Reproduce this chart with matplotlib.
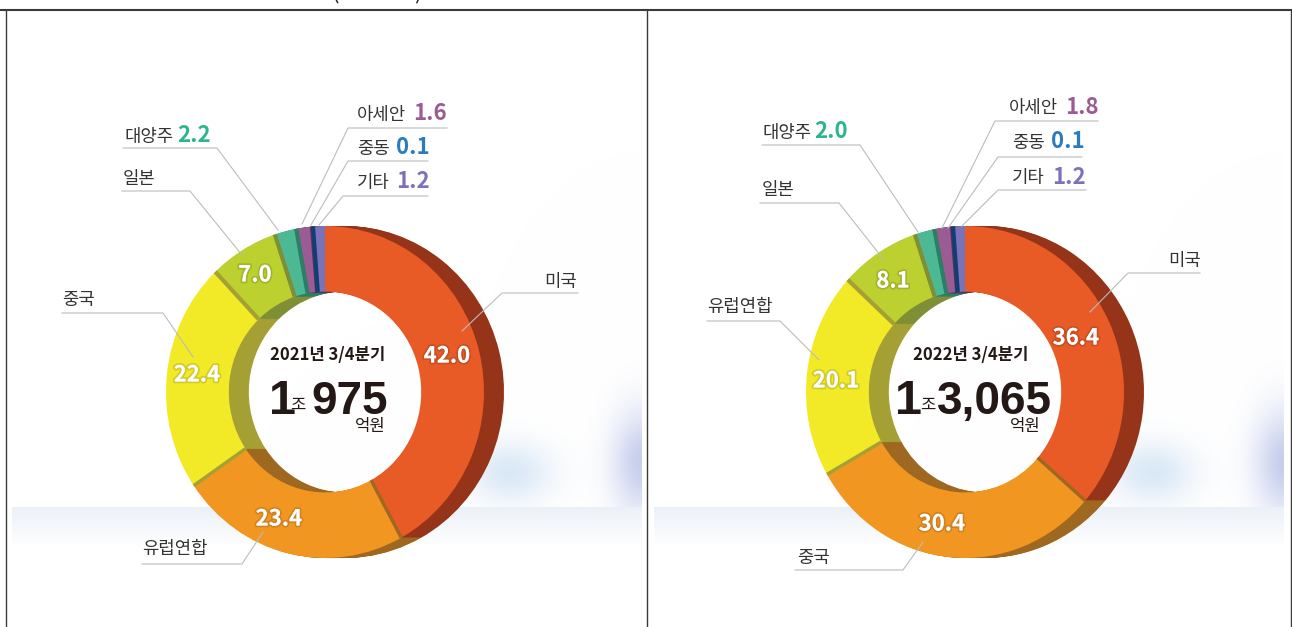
import numpy as np
import matplotlib
matplotlib.use('Agg')
import matplotlib.pyplot as plt
import matplotlib.patheffects as pe

plt.rcParams['font.family'] = ['Noto Sans CJK KR', 'DejaVu Sans']

# data
names_2021 = ['미국', '유럽연합', '중국', '일본', '대양주', '아세안', '중동', '기타']
values_2021 = [42.0, 23.4, 22.4, 7.0, 2.2, 1.6, 0.1, 1.2]
names_2022 = ['미국', '중국', '유럽연합', '일본', '대양주', '아세안', '중동', '기타']
values_2022 = [36.4, 30.4, 20.1, 8.1, 2.0, 1.8, 0.1, 1.2]
periods = ['2021년 3/4분기', '2022년 3/4분기']
totals = ['975', '3,065']

# styles
face_cols = ['#E85A26', '#F29622', '#F2EA27', '#BCD02F', '#4DB894', '#9A5C93', '#1F5FA0', '#7B72BC']
side_cols = ['#96341A', '#9E6820', '#A5A033', '#7E8F36', '#2A7F65', '#5F2F5E', '#123F70', '#4A4490']
value_cols = {'대양주': '#2DB58F', '아세안': '#9A5C93', '중동': '#2A7BBF', '기타': '#7B72BC'}

W, H = 1292, 627
RX, RY = 159, 166
CY = 392
DEPTH = 20

# layout, in pixels of the picture
centers = [325, 965]
white_pos = [
    [(447, 356), (279, 519), (197, 375), (255, 275)],
    [(1076, 338), (942, 524), (836, 381), (893, 281)],
]
# name left x, y, value left x (None when value sits on the ring)
label_pos = [
    [(544, 282, None), (142, 549, None), (62, 300, None), (123, 179, None),
     (124, 137, 177), (357, 115, 413), (357, 149, 396), (357, 183, 396)],
    [(1168, 261, None), (797, 558, None), (707, 307, None), (762, 190, None),
     (763, 133, 814), (1009, 108, 1065), (1012, 143, 1051), (1012, 178, 1052)],
]
# leader: shelf start, shelf end, y, tip x, tip y
leaders = [
    [(502, 578, 293, 462, 331), (142, 242, 564, 263, 532), (62, 163, 313, 193, 357),
     (122, 190, 191, 242, 255), (123, 217, 148, 278, 230), (348, 447, 128, 302, 224),
     (348, 428, 161, 311, 225), (343, 428, 196, 319, 225)],
    [(1128, 1200, 273, 1090, 312), (795, 903, 570, 923, 542), (707, 780, 321, 819, 360),
     (760, 839, 203, 884, 260), (762, 860, 145, 918, 232), (995, 1098, 121, 942, 228),
     (998, 1082, 157, 948, 228), (998, 1086, 190, 962, 226)],
]
center_txt = [
    dict(period=328, one=282, jo=298, num=349.5, won=386),
    dict(period=971, one=909, jo=928, num=994.5, won=1041),
]

fig = plt.figure(figsize=(W / 100, H / 100), dpi=100, facecolor='white')

# background: pale band and two soft blobs in each panel
bg = fig.add_axes([0, 0, 1, 1])
yy, xx = np.mgrid[0:H, 0:W]
img = np.ones((H, W, 3))
for x0, x1 in [(12, 642), (654, 1284)]:
    inside = (xx >= x0) & (xx < x1)
    a = np.exp(-(((xx - (x1 - 132)) / 42.0) ** 2 + ((yy - 472) / 30.0) ** 2)) * 0.9
    b = np.exp(-(((xx - x1) / 30.0) ** 2 + ((yy - 462) / 52.0) ** 2))
    above = inside & (yy < 507)
    for c, (ca, cb) in enumerate(zip((0.84, 0.90, 0.96), (0.78, 0.81, 0.93))):
        img[..., c][above] = (1 - (1 - ca) * a[above]) * (1 - (1 - cb) * b[above])
    band = inside & (yy >= 507) & (yy < 545)
    t = (yy[band] - 507) / 38.0
    for c, col in enumerate((0.925, 0.945, 0.975)):
        img[..., c][band] = col + (0.995 - col) * t
bg.imshow(img, extent=(0, W, H, 0), aspect='auto', interpolation='bilinear')
bg.set_xlim(0, W)
bg.set_ylim(H, 0)
bg.axis('off')

all_names = [names_2021, names_2022]
all_values = [values_2021, values_2022]

for k in range(2):
    cx = centers[k]
    vals = all_values[k]
    ax = fig.add_axes([0, 0, 1, 1])
    # extruded wall: same pie repeated, back to front
    for d in range(DEPTH, 0, -1):
        ax.pie(vals, colors=side_cols, startangle=90, counterclock=False,
               radius=1, center=(d / RX, 0), wedgeprops=dict(width=0.395, linewidth=0))
    ax.pie(vals, colors=face_cols, startangle=90, counterclock=False,
           radius=1, wedgeprops=dict(width=0.395, linewidth=0))
    # thin wall seen between two slices, on the top left it belongs to the earlier slice
    cum = np.cumsum(vals) / np.sum(vals)
    for i in range(len(vals) - 1):
        ang = 2 * np.pi * cum[i]
        col = side_cols[i + 1] if i < 2 else side_cols[i]
        ax.plot([0.605 * np.sin(ang), np.sin(ang)], [0.605 * np.cos(ang), np.cos(ang)],
                color=col, lw=2.4 if i < 2 else 3.0, solid_capstyle='butt')
    ax.set_aspect('auto')
    ax.set_xlim(-cx / RX, (W - cx) / RX)
    ax.set_ylim((CY - H) / RY, CY / RY)
    ax.patch.set_alpha(0)
    ax.axis('off')

# everything else in picture pixels
ov = fig.add_axes([0, 0, 1, 1])
ov.set_xlim(0, W)
ov.set_ylim(H, 0)
ov.axis('off')
ov.patch.set_alpha(0)

# table rules
ov.plot([0, W], [10, 10], color='#3a3a3a', lw=1.5)
for x in [6, 647, 1290.5]:
    ov.plot([x, x], [10, H], color='#3a3a3a', lw=1.0)

# cut off title brackets at the very top
ov.text(336, -2, '(', fontsize=16, ha='center', va='baseline', color='#222222')
ov.text(418, -2, ')', fontsize=16, ha='center', va='baseline', color='#222222')

shadow = [pe.withStroke(linewidth=2.5, foreground='#00000022')]

for k in range(2):
    names = all_names[k]
    vals = all_values[k]
    for i, name in enumerate(names):
        x0, x1, y, tx, ty = leaders[k][i]
        if tx > (x0 + x1) / 2:
            ov.plot([x0, x1, tx], [y, y, ty], color='#bcbcbc', lw=0.8)
        else:
            ov.plot([x1, x0, tx], [y, y, ty], color='#bcbcbc', lw=0.8)
        nx, ny, vx = label_pos[k][i]
        ov.text(nx, ny, name, fontsize=12.8, ha='left', va='center', color='#333333')
        if vx is not None:
            ov.text(vx, ny - 1, '%.1f' % vals[i], fontsize=16, fontweight='bold',
                    ha='left', va='center', color=value_cols[name])
    for i, (px, py) in enumerate(white_pos[k]):
        ov.text(px, py, '%.1f' % vals[i], fontsize=16, fontweight='bold',
                ha='center', va='center', color='white', path_effects=shadow)

    c = center_txt[k]
    ov.text(c['period'], 355, periods[k], fontsize=12, fontweight='bold',
            ha='center', va='center', color='#231815')
    ov.text(c['one'], 414, '1', fontsize=35, fontweight='bold', family='Liberation Sans',
            ha='center', va='baseline', color='#231815')
    ov.text(c['jo'], 405, '조', fontsize=12, ha='center', va='center', color='#231815')
    ov.text(c['num'], 414, totals[k], fontsize=33, fontweight='bold', family='Liberation Sans',
            ha='center', va='baseline', color='#231815')
    ov.text(c['won'], 427, '억원', fontsize=12, ha='right', va='center', color='#231815')

fig.savefig('out.png', dpi=100)
